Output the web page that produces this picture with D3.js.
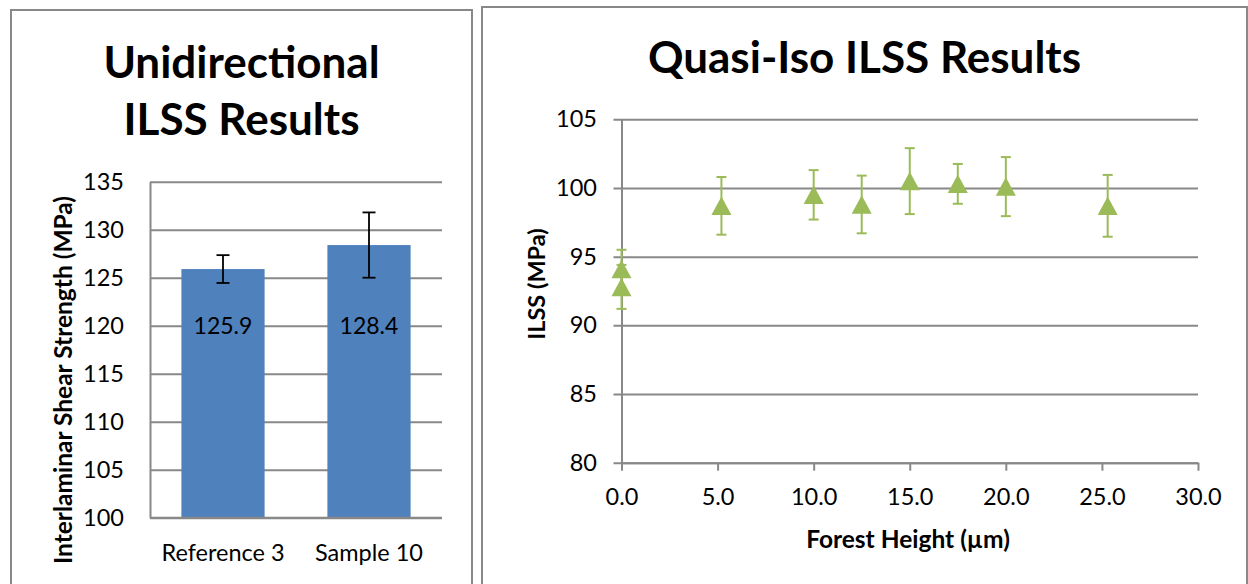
<!DOCTYPE html>
<html>
<head>
<meta charset="utf-8">
<script src="https://cdn.jsdelivr.net/npm/d3@7"></script>
<style>
  html, body { margin: 0; padding: 0; background: #fff; }
  svg { display: block; font-family: Lato, "Noto Sans", sans-serif; }
</style>
</head>
<body>
<svg id="chart" width="1248" height="584"></svg>
<script>
// ---- Unidirectional ILSS (bar chart) ----
const udCategories = ["Reference 3", "Sample 10"];
const udIlss = [125.9, 128.4];
const udIlssErr = [1.45, 3.4];
const udTicks = [100, 105, 110, 115, 120, 125, 130, 135];

// ---- Quasi-isotropic ILSS vs. forest height (scatter with error bars) ----
const qiForestHeight = [0, 0, 5.2, 10, 12.5, 15, 17.5, 20, 25.3];
const qiIlss = [94.1, 92.8, 98.7, 99.5, 98.8, 100.5, 100.3, 100.1, 98.7];
const qiIlssErr = [1.4, 1.6, 2.1, 1.8, 2.1, 2.4, 1.45, 2.15, 2.25];
const qiYTicks = [80, 85, 90, 95, 100, 105];
const qiXTicks = [0, 5, 10, 15, 20, 25, 30];

const GRID = "#888888";
const BAR = "#4F81BD";
const GREEN = "#9BBB59";
const FS_TICK = 23.5;
const FS_AXIS = 24.5;
const FS_TITLE = 44;

const svg = d3.select("#chart");
svg.append("rect").attr("width", 1248).attr("height", 584).attr("fill", "#fff");

// Panel frames (open at the bottom edge of the image)
svg.append("path")
  .attr("d", "M11,590 V10 H472 V590")
  .attr("fill", "none").attr("stroke", GRID).attr("stroke-width", 2);
svg.append("path")
  .attr("d", "M482,590 V7 H1247 V590")
  .attr("fill", "none").attr("stroke", GRID).attr("stroke-width", 2);

// ================= Left panel =================
const L = { x0: 150, x1: 442, y0: 517.7, y1: 181.7 };
const yL = d3.scaleLinear().domain([100, 135]).range([L.y0, L.y1]);
const xL = d3.scaleBand().domain(udCategories).range([L.x0, L.x1])
  .paddingInner(0.43).paddingOuter(0.215);

const left = svg.append("g");

left.append("text")
  .attr("x", 241.5).attr("y", 78)
  .attr("text-anchor", "middle").attr("font-weight", 700).attr("font-size", FS_TITLE)
  .text("Unidirectional");
left.append("text")
  .attr("x", 241.5).attr("y", 135)
  .attr("text-anchor", "middle").attr("font-weight", 700).attr("font-size", FS_TITLE)
  .text("ILSS Results");

const yAxisL = left.append("g")
  .attr("transform", `translate(${L.x0},0)`)
  .call(d3.axisLeft(yL).tickValues(udTicks).tickFormat(d3.format("d"))
    .tickSize(-(L.x1 - L.x0)).tickSizeOuter(0).tickPadding(26));
yAxisL.select(".domain").attr("stroke", GRID).attr("stroke-width", 2);
yAxisL.selectAll(".tick line").attr("stroke", GRID).attr("stroke-width", 2);
yAxisL.selectAll(".tick text").attr("font-size", FS_TICK).attr("fill", "#000")
  .attr("font-family", "Lato, sans-serif");

left.selectAll("rect.bar")
  .data(udIlss)
  .join("rect")
  .attr("class", "bar")
  .attr("x", (d, i) => xL(udCategories[i]))
  .attr("width", xL.bandwidth())
  .attr("y", d => yL(d))
  .attr("height", d => yL(100) - yL(d))
  .attr("fill", BAR);

// bottom axis line drawn over the bars
left.append("line")
  .attr("x1", L.x0).attr("x2", L.x1).attr("y1", L.y0).attr("y2", L.y0)
  .attr("stroke", GRID).attr("stroke-width", 2);

const errL = left.selectAll("g.err").data(udIlss).join("g").attr("class", "err")
  .attr("stroke", "#000").attr("stroke-width", 1.8);
errL.append("line")
  .attr("x1", (d, i) => xL(udCategories[i]) + xL.bandwidth() / 2)
  .attr("x2", (d, i) => xL(udCategories[i]) + xL.bandwidth() / 2)
  .attr("y1", (d, i) => yL(d - udIlssErr[i]))
  .attr("y2", (d, i) => yL(d + udIlssErr[i]));
[-1, 1].forEach(s => {
  errL.append("line")
    .attr("x1", (d, i) => xL(udCategories[i]) + xL.bandwidth() / 2 - 6.5)
    .attr("x2", (d, i) => xL(udCategories[i]) + xL.bandwidth() / 2 + 6.5)
    .attr("y1", (d, i) => yL(d + s * udIlssErr[i]))
    .attr("y2", (d, i) => yL(d + s * udIlssErr[i]));
});

left.selectAll("text.val").data(udIlss).join("text")
  .attr("class", "val")
  .attr("x", (d, i) => xL(udCategories[i]) + xL.bandwidth() / 2)
  .attr("y", yL(120))
  .attr("dy", "0.36em")
  .attr("text-anchor", "middle").attr("font-size", 23)
  .text(d => d.toFixed(1));

const xAxisL = left.append("g")
  .attr("transform", `translate(0,${L.y0})`)
  .call(d3.axisBottom(xL).tickSize(0).tickPadding(26.3));
xAxisL.select(".domain").remove();
xAxisL.selectAll(".tick text").attr("font-size", FS_TICK).attr("fill", "#000")
  .attr("font-family", "Lato, sans-serif");

left.append("text")
  .attr("transform", "translate(72,380) rotate(-90)")
  .attr("text-anchor", "middle").attr("font-weight", 700).attr("font-size", FS_AXIS)
  .text("Interlaminar Shear Strength (MPa)");

// ================= Right panel =================
const R = { x0: 621.5, x1: 1198, y0: 462.7, y1: 119.3 };
const xR = d3.scaleLinear().domain([0, 30]).range([R.x0, R.x1]);
const yR = d3.scaleLinear().domain([80, 105]).range([R.y0, R.y1]);

const right = svg.append("g");

right.append("text")
  .attr("x", 864.5).attr("y", 73)
  .attr("text-anchor", "middle").attr("font-weight", 700).attr("font-size", FS_TITLE)
  .text("Quasi-Iso ILSS Results");

const yAxisR = right.append("g")
  .attr("transform", `translate(${R.x0},0)`)
  .call(d3.axisLeft(yR).tickValues(qiYTicks).tickFormat(d3.format("d"))
    .tickSize(-(R.x1 - R.x0)).tickSizeOuter(0).tickPadding(24.5));
yAxisR.select(".domain").attr("stroke", GRID).attr("stroke-width", 2);
yAxisR.selectAll(".tick line").attr("x1", -8)
  .attr("stroke", GRID).attr("stroke-width", 2);
yAxisR.selectAll(".tick text").attr("font-size", FS_TICK).attr("fill", "#000")
  .attr("font-family", "Lato, sans-serif");

const xAxisR = right.append("g")
  .attr("transform", `translate(0,${R.y0})`)
  .call(d3.axisBottom(xR).tickValues(qiXTicks).tickFormat(d3.format(".1f"))
    .tickSize(8).tickSizeOuter(0).tickPadding(17.6));
xAxisR.select(".domain").attr("stroke", GRID).attr("stroke-width", 2);
xAxisR.selectAll(".tick line").attr("stroke", GRID).attr("stroke-width", 2);
xAxisR.selectAll(".tick text").attr("font-size", FS_TICK).attr("fill", "#000")
  .attr("font-family", "Lato, sans-serif");

// error bars sit beneath the markers
const errR = right.selectAll("g.qerr").data(qiIlss).join("g").attr("class", "qerr")
  .attr("stroke", GREEN).attr("stroke-width", 2);
errR.append("line")
  .attr("x1", (d, i) => xR(qiForestHeight[i]))
  .attr("x2", (d, i) => xR(qiForestHeight[i]))
  .attr("y1", (d, i) => yR(d - qiIlssErr[i]))
  .attr("y2", (d, i) => yR(d + qiIlssErr[i]));
[-1, 1].forEach(s => {
  errR.append("line")
    .attr("x1", (d, i) => xR(qiForestHeight[i]) - 5)
    .attr("x2", (d, i) => xR(qiForestHeight[i]) + 5)
    .attr("y1", (d, i) => yR(d + s * qiIlssErr[i]))
    .attr("y2", (d, i) => yR(d + s * qiIlssErr[i]));
});

// triangle markers
const TW = 20, TH = 18.5;
right.selectAll("path.mark").data(qiIlss).join("path")
  .attr("class", "mark")
  .attr("transform", (d, i) => `translate(${xR(qiForestHeight[i])},${yR(d)})`)
  .attr("d", `M0,${-TH / 2} L${TW / 2},${TH / 2} L${-TW / 2},${TH / 2} Z`)
  .attr("fill", GREEN);

right.append("text")
  .attr("transform", "translate(545,284) rotate(-90)")
  .attr("text-anchor", "middle").attr("font-weight", 700).attr("font-size", 23.5)
  .text("ILSS (MPa)");

right.append("text")
  .attr("x", 908).attr("y", 548)
  .attr("text-anchor", "middle").attr("font-weight", 700).attr("font-size", FS_AXIS)
  .text("Forest Height (µm)");
</script>
</body>
</html>
